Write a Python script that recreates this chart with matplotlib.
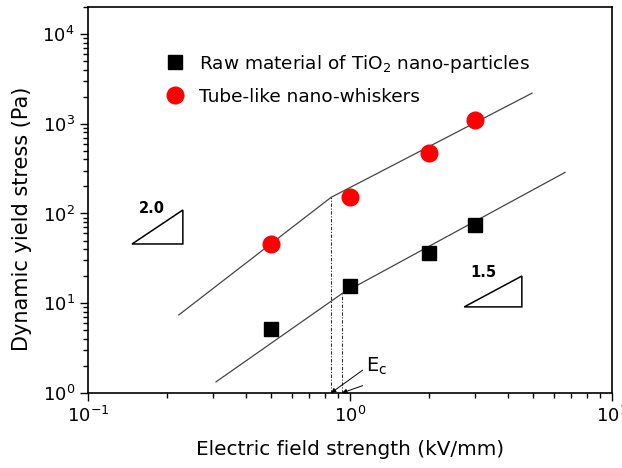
import matplotlib
matplotlib.use("Agg")
import matplotlib.pyplot as plt
from matplotlib.patches import Polygon

# ---- data ----
field = [0.5, 1.0, 2.0, 3.0]                      # kV/mm
raw_stress = [5.2, 15.7, 36.7, 73.5]              # Pa, raw TiO2 nano-particles
whisker_stress = [46, 153, 468, 1090]             # Pa, tube-like nano-whiskers

whisker_fit_x = [0.222, 0.846, 4.95]
whisker_fit_y = [7.4, 151, 2190]
raw_fit_x = [0.308, 0.932, 6.62]
raw_fit_y = [1.33, 12.8, 287]

ec_x = [0.846, 0.932]
ec_y = [151, 12.8]

raw_label = "Raw material of TiO$_2$ nano-particles"
whisker_label = "Tube-like nano-whiskers"
slope_labels = ["2.0", "1.5"]

plt.rcParams['font.family'] = ['DejaVu Sans']
plt.rcParams['mathtext.fontset'] = 'dejavusans'
plt.rcParams['mathtext.default'] = 'regular'

fig = plt.figure(figsize=(6.22, 4.68), dpi=100)
ax = fig.add_axes([0.1415, 0.1603, 0.8424, 0.8248])
ax.set_xscale('log')
ax.set_yscale('log')
ax.set_xlim(0.1, 10)
ax.set_ylim(1, 2.0e4)

line_col = '#444444'
ax.plot(whisker_fit_x, whisker_fit_y, color=line_col, lw=0.9, zorder=2)
ax.plot(raw_fit_x, raw_fit_y, color=line_col, lw=0.9, zorder=2)

ax.plot(field, raw_stress, 's', color='black', ms=10.5, ls='none',
        label=raw_label, zorder=3)
ax.plot(field, whisker_stress, 'o', color='#ff0000', ms=12, ls='none',
        label=whisker_label, zorder=3)

for xv, yv in zip(ec_x, ec_y):
    ax.plot([xv, xv], [1, yv], color='#333333', lw=0.8,
            ls=(0, (3, 1.5, 1, 1.5)), zorder=1)

# E_c annotation arrows
for xv, dy in zip(ec_x, [0.0, 0.04]):
    ax.annotate('', xy=(xv, 1.0), xycoords='data',
                xytext=(0.524, 0.059 - dy), textcoords='axes fraction',
                arrowprops=dict(arrowstyle='-|>', color='black', lw=0.7,
                                mutation_scale=7, shrinkA=0, shrinkB=0))
ax.text(0.55, 0.07, 'E$_c$', transform=ax.transAxes, fontsize=14,
        ha='center', va='center')

# slope triangles
tri1 = Polygon([(0.084, 0.386), (0.181, 0.386), (0.181, 0.474)],
               closed=True, fill=False, edgecolor='black', lw=1.1,
               transform=ax.transAxes)
tri2 = Polygon([(0.718, 0.223), (0.828, 0.223), (0.828, 0.303)],
               closed=True, fill=False, edgecolor='black', lw=1.1,
               transform=ax.transAxes)
ax.add_patch(tri1)
ax.add_patch(tri2)
ax.text(0.122, 0.478, slope_labels[0], transform=ax.transAxes, fontsize=10.5,
        fontweight='bold', ha='center', va='center')
ax.text(0.754, 0.313, slope_labels[1], transform=ax.transAxes, fontsize=10.5,
        fontweight='bold', ha='center', va='center')

ax.legend(loc='upper left', bbox_to_anchor=(0.127, 0.905), frameon=False,
          fontsize=13.3, handletextpad=0.7, labelspacing=0.7,
          handlelength=1.2, borderpad=0, numpoints=1)

ax.tick_params(which='major', direction='out', length=6, width=1,
               labelsize=13, top=False, right=False)
ax.tick_params(which='minor', direction='out', length=3.5, width=1,
               top=False, right=False)
for sp in ax.spines.values():
    sp.set_linewidth(1.2)

ax.set_xlabel('Electric field strength (kV/mm)', fontsize=14.4, labelpad=10)
ax.set_ylabel('Dynamic yield stress (Pa)', fontsize=15)
ax.yaxis.set_label_coords(-0.107, 0.45)

fig.savefig('out.png', dpi=100)
